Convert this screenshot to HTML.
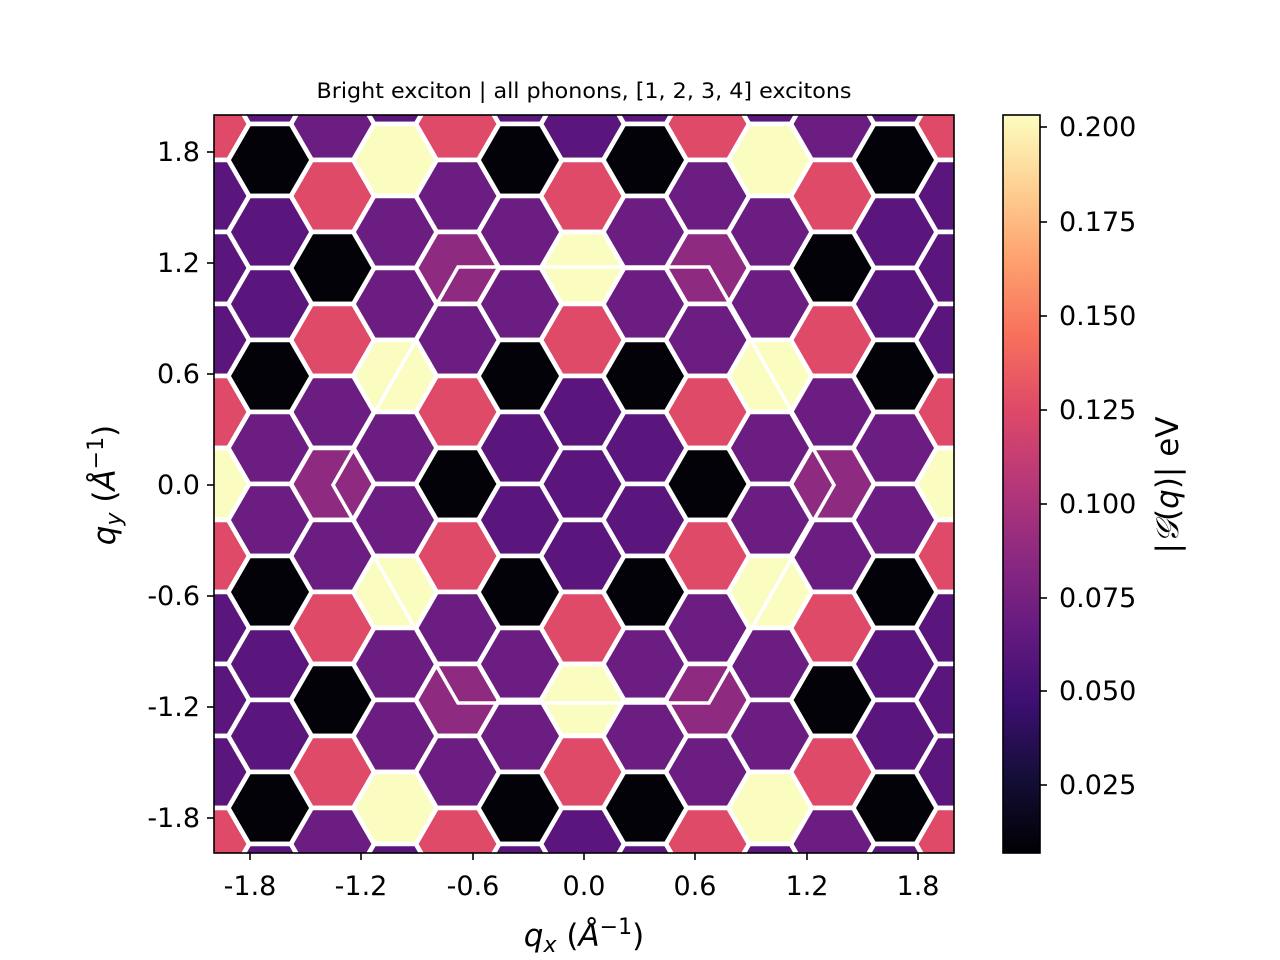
<!DOCTYPE html>
<html><head><meta charset="utf-8"><style>
html,body{margin:0;padding:0;background:#fff;}
svg{display:block;font-family:"DejaVu Sans","Liberation Sans",sans-serif;}
</style></head><body>
<svg width="1280" height="960" viewBox="0 0 1280 960" xmlns="http://www.w3.org/2000/svg">
<defs>
<polygon id="h" points="41.67,0 20.83,36.08 -20.83,36.08 -41.67,0 -20.83,-36.08 20.83,-36.08" stroke="#fff" stroke-width="4.6" stroke-linejoin="miter"/>
<clipPath id="c"><rect x="214" y="115" width="740" height="738"/></clipPath>
<linearGradient id="mg" x1="0" y1="1" x2="0" y2="0">
<stop offset="0" stop-color="#000004"/><stop offset="0.1" stop-color="#140e36"/><stop offset="0.2" stop-color="#3b0f70"/><stop offset="0.3" stop-color="#641a80"/><stop offset="0.4" stop-color="#8c2981"/><stop offset="0.5" stop-color="#b73779"/><stop offset="0.6" stop-color="#de4968"/><stop offset="0.7" stop-color="#f7705c"/><stop offset="0.8" stop-color="#fe9f6d"/><stop offset="0.9" stop-color="#fecf92"/><stop offset="1" stop-color="#fcfdbf"/>
</linearGradient>
</defs>
<rect x="214" y="115" width="740" height="738" fill="#fff"/>
<g clip-path="url(#c)">
<use href="#h" x="207.5" y="124" fill="#df4a68"/><use href="#h" x="207.5" y="196" fill="#5b167e"/><use href="#h" x="207.5" y="268" fill="#5b167e"/><use href="#h" x="207.5" y="340" fill="#5b167e"/><use href="#h" x="207.5" y="412" fill="#df4a68"/><use href="#h" x="207.5" y="484" fill="#fbfcc0"/><use href="#h" x="207.5" y="556" fill="#df4a68"/><use href="#h" x="207.5" y="628" fill="#5b167e"/><use href="#h" x="207.5" y="700" fill="#5b167e"/><use href="#h" x="207.5" y="772" fill="#5b167e"/><use href="#h" x="207.5" y="844" fill="#df4a68"/>
<use href="#h" x="957.5" y="124" fill="#df4a68"/><use href="#h" x="957.5" y="196" fill="#5b167e"/><use href="#h" x="957.5" y="268" fill="#5b167e"/><use href="#h" x="957.5" y="340" fill="#5b167e"/><use href="#h" x="957.5" y="412" fill="#df4a68"/><use href="#h" x="957.5" y="484" fill="#fbfcc0"/><use href="#h" x="957.5" y="556" fill="#df4a68"/><use href="#h" x="957.5" y="628" fill="#5b167e"/><use href="#h" x="957.5" y="700" fill="#5b167e"/><use href="#h" x="957.5" y="772" fill="#5b167e"/><use href="#h" x="957.5" y="844" fill="#df4a68"/>
<use href="#h" x="332.5" y="124" fill="#6b1d81"/><use href="#h" x="332.5" y="196" fill="#df4a68"/><use href="#h" x="332.5" y="268" fill="#030208"/><use href="#h" x="332.5" y="340" fill="#df4a68"/><use href="#h" x="332.5" y="412" fill="#6b1d81"/><use href="#h" x="332.5" y="484" fill="#8e2b80"/><use href="#h" x="332.5" y="556" fill="#6b1d81"/><use href="#h" x="332.5" y="628" fill="#df4a68"/><use href="#h" x="332.5" y="700" fill="#030208"/><use href="#h" x="332.5" y="772" fill="#df4a68"/><use href="#h" x="332.5" y="844" fill="#6b1d81"/>
<use href="#h" x="832.5" y="124" fill="#6b1d81"/><use href="#h" x="832.5" y="196" fill="#df4a68"/><use href="#h" x="832.5" y="268" fill="#030208"/><use href="#h" x="832.5" y="340" fill="#df4a68"/><use href="#h" x="832.5" y="412" fill="#6b1d81"/><use href="#h" x="832.5" y="484" fill="#8e2b80"/><use href="#h" x="832.5" y="556" fill="#6b1d81"/><use href="#h" x="832.5" y="628" fill="#df4a68"/><use href="#h" x="832.5" y="700" fill="#030208"/><use href="#h" x="832.5" y="772" fill="#df4a68"/><use href="#h" x="832.5" y="844" fill="#6b1d81"/>
<use href="#h" x="457.5" y="124" fill="#df4a68"/><use href="#h" x="457.5" y="196" fill="#6b1d81"/><use href="#h" x="457.5" y="268" fill="#8e2b80"/><use href="#h" x="457.5" y="340" fill="#6b1d81"/><use href="#h" x="457.5" y="412" fill="#df4a68"/><use href="#h" x="457.5" y="484" fill="#030208"/><use href="#h" x="457.5" y="556" fill="#df4a68"/><use href="#h" x="457.5" y="628" fill="#6b1d81"/><use href="#h" x="457.5" y="700" fill="#8e2b80"/><use href="#h" x="457.5" y="772" fill="#6b1d81"/><use href="#h" x="457.5" y="844" fill="#df4a68"/>
<use href="#h" x="707.5" y="124" fill="#df4a68"/><use href="#h" x="707.5" y="196" fill="#6b1d81"/><use href="#h" x="707.5" y="268" fill="#8e2b80"/><use href="#h" x="707.5" y="340" fill="#6b1d81"/><use href="#h" x="707.5" y="412" fill="#df4a68"/><use href="#h" x="707.5" y="484" fill="#030208"/><use href="#h" x="707.5" y="556" fill="#df4a68"/><use href="#h" x="707.5" y="628" fill="#6b1d81"/><use href="#h" x="707.5" y="700" fill="#8e2b80"/><use href="#h" x="707.5" y="772" fill="#6b1d81"/><use href="#h" x="707.5" y="844" fill="#df4a68"/>
<use href="#h" x="582.5" y="124" fill="#5b167e"/><use href="#h" x="582.5" y="196" fill="#df4a68"/><use href="#h" x="582.5" y="268" fill="#fbfcc0"/><use href="#h" x="582.5" y="340" fill="#df4a68"/><use href="#h" x="582.5" y="412" fill="#5b167e"/><use href="#h" x="582.5" y="484" fill="#5b167e"/><use href="#h" x="582.5" y="556" fill="#5b167e"/><use href="#h" x="582.5" y="628" fill="#df4a68"/><use href="#h" x="582.5" y="700" fill="#fbfcc0"/><use href="#h" x="582.5" y="772" fill="#df4a68"/><use href="#h" x="582.5" y="844" fill="#5b167e"/>
<use href="#h" x="270" y="88" fill="#5b167e"/><use href="#h" x="270" y="160" fill="#030208"/><use href="#h" x="270" y="232" fill="#5b167e"/><use href="#h" x="270" y="304" fill="#5b167e"/><use href="#h" x="270" y="376" fill="#030208"/><use href="#h" x="270" y="448" fill="#6b1d81"/><use href="#h" x="270" y="520" fill="#6b1d81"/><use href="#h" x="270" y="592" fill="#030208"/><use href="#h" x="270" y="664" fill="#5b167e"/><use href="#h" x="270" y="736" fill="#5b167e"/><use href="#h" x="270" y="808" fill="#030208"/><use href="#h" x="270" y="880" fill="#5b167e"/>
<use href="#h" x="895" y="88" fill="#5b167e"/><use href="#h" x="895" y="160" fill="#030208"/><use href="#h" x="895" y="232" fill="#5b167e"/><use href="#h" x="895" y="304" fill="#5b167e"/><use href="#h" x="895" y="376" fill="#030208"/><use href="#h" x="895" y="448" fill="#6b1d81"/><use href="#h" x="895" y="520" fill="#6b1d81"/><use href="#h" x="895" y="592" fill="#030208"/><use href="#h" x="895" y="664" fill="#5b167e"/><use href="#h" x="895" y="736" fill="#5b167e"/><use href="#h" x="895" y="808" fill="#030208"/><use href="#h" x="895" y="880" fill="#5b167e"/>
<use href="#h" x="395" y="88" fill="#5b167e"/><use href="#h" x="395" y="160" fill="#fbfcc0"/><use href="#h" x="395" y="232" fill="#6b1d81"/><use href="#h" x="395" y="304" fill="#6b1d81"/><use href="#h" x="395" y="376" fill="#fbfcc0"/><use href="#h" x="395" y="448" fill="#6b1d81"/><use href="#h" x="395" y="520" fill="#6b1d81"/><use href="#h" x="395" y="592" fill="#fbfcc0"/><use href="#h" x="395" y="664" fill="#6b1d81"/><use href="#h" x="395" y="736" fill="#6b1d81"/><use href="#h" x="395" y="808" fill="#fbfcc0"/><use href="#h" x="395" y="880" fill="#5b167e"/>
<use href="#h" x="770" y="88" fill="#5b167e"/><use href="#h" x="770" y="160" fill="#fbfcc0"/><use href="#h" x="770" y="232" fill="#6b1d81"/><use href="#h" x="770" y="304" fill="#6b1d81"/><use href="#h" x="770" y="376" fill="#fbfcc0"/><use href="#h" x="770" y="448" fill="#6b1d81"/><use href="#h" x="770" y="520" fill="#6b1d81"/><use href="#h" x="770" y="592" fill="#fbfcc0"/><use href="#h" x="770" y="664" fill="#6b1d81"/><use href="#h" x="770" y="736" fill="#6b1d81"/><use href="#h" x="770" y="808" fill="#fbfcc0"/><use href="#h" x="770" y="880" fill="#5b167e"/>
<use href="#h" x="520" y="88" fill="#5b167e"/><use href="#h" x="520" y="160" fill="#030208"/><use href="#h" x="520" y="232" fill="#6b1d81"/><use href="#h" x="520" y="304" fill="#6b1d81"/><use href="#h" x="520" y="376" fill="#030208"/><use href="#h" x="520" y="448" fill="#5b167e"/><use href="#h" x="520" y="520" fill="#5b167e"/><use href="#h" x="520" y="592" fill="#030208"/><use href="#h" x="520" y="664" fill="#6b1d81"/><use href="#h" x="520" y="736" fill="#6b1d81"/><use href="#h" x="520" y="808" fill="#030208"/><use href="#h" x="520" y="880" fill="#5b167e"/>
<use href="#h" x="645" y="88" fill="#5b167e"/><use href="#h" x="645" y="160" fill="#030208"/><use href="#h" x="645" y="232" fill="#6b1d81"/><use href="#h" x="645" y="304" fill="#6b1d81"/><use href="#h" x="645" y="376" fill="#030208"/><use href="#h" x="645" y="448" fill="#5b167e"/><use href="#h" x="645" y="520" fill="#5b167e"/><use href="#h" x="645" y="592" fill="#030208"/><use href="#h" x="645" y="664" fill="#6b1d81"/><use href="#h" x="645" y="736" fill="#6b1d81"/><use href="#h" x="645" y="808" fill="#030208"/><use href="#h" x="645" y="880" fill="#5b167e"/>
<polygon points="458,267 709,267 834,485 709,703 458,703 333,485" fill="none" stroke="#fff" stroke-width="3.6"/>
</g>
<rect x="214" y="115" width="740" height="738" fill="none" stroke="#000" stroke-width="1.6"/>
<g stroke="#000" stroke-width="1.6">
<line x1="250" y1="853" x2="250" y2="860"/><line x1="361" y1="853" x2="361" y2="860"/><line x1="473" y1="853" x2="473" y2="860"/><line x1="584" y1="853" x2="584" y2="860"/><line x1="695" y1="853" x2="695" y2="860"/><line x1="807" y1="853" x2="807" y2="860"/><line x1="918" y1="853" x2="918" y2="860"/>
<line x1="207" y1="152" x2="214" y2="152"/><line x1="207" y1="263" x2="214" y2="263"/><line x1="207" y1="374" x2="214" y2="374"/><line x1="207" y1="485" x2="214" y2="485"/><line x1="207" y1="596" x2="214" y2="596"/><line x1="207" y1="707" x2="214" y2="707"/><line x1="207" y1="818" x2="214" y2="818"/>
<line x1="1040" y1="127" x2="1047" y2="127"/><line x1="1040" y1="222" x2="1047" y2="222"/><line x1="1040" y1="316" x2="1047" y2="316"/><line x1="1040" y1="410" x2="1047" y2="410"/><line x1="1040" y1="504" x2="1047" y2="504"/><line x1="1040" y1="598" x2="1047" y2="598"/><line x1="1040" y1="691" x2="1047" y2="691"/><line x1="1040" y1="785" x2="1047" y2="785"/>
</g>
<g font-size="27" fill="#000" text-anchor="middle">
<text x="250" y="895">-1.8</text><text x="361" y="895">-1.2</text><text x="473" y="895">-0.6</text><text x="584" y="895">0.0</text><text x="695" y="895">0.6</text><text x="807" y="895">1.2</text><text x="918" y="895">1.8</text>
</g>
<g font-size="27" fill="#000" text-anchor="end">
<text x="200" y="161">1.8</text><text x="200" y="272">1.2</text><text x="200" y="383">0.6</text><text x="200" y="494">0.0</text><text x="200" y="605">-0.6</text><text x="200" y="716">-1.2</text><text x="200" y="827">-1.8</text>
</g>
<g font-size="27" fill="#000">
<text x="1059" y="136">0.200</text><text x="1059" y="231">0.175</text><text x="1059" y="325">0.150</text><text x="1059" y="419">0.125</text><text x="1059" y="513">0.100</text><text x="1059" y="607">0.075</text><text x="1059" y="700">0.050</text><text x="1059" y="794">0.025</text>
</g>
<rect x="1003" y="115" width="37" height="738" fill="url(#mg)" stroke="#000" stroke-width="1.6"/>
<text x="584" y="98" font-size="21" text-anchor="middle" textLength="535" lengthAdjust="spacingAndGlyphs">Bright exciton | all phonons, [1, 2, 3, 4] excitons</text>
<text x="584" y="946" font-size="31" text-anchor="middle"><tspan font-style="italic">q</tspan><tspan font-style="italic" font-size="22" dy="6">x</tspan><tspan dy="-6"> (</tspan><tspan font-style="italic">Å</tspan><tspan font-size="22" dy="-12">−1</tspan><tspan dy="12">)</tspan></text>
<text transform="translate(115,485) rotate(-90)" font-size="31" text-anchor="middle"><tspan font-style="italic">q</tspan><tspan font-style="italic" font-size="22" dy="6">y</tspan><tspan dy="-6"> (</tspan><tspan font-style="italic">Å</tspan><tspan font-size="22" dy="-12">−1</tspan><tspan dy="12">)</tspan></text>
<text transform="translate(1178,485) rotate(-90)" font-size="31" text-anchor="middle">|<tspan font-style="italic">𝒢</tspan>(<tspan font-style="italic">q</tspan>)| eV</text>
</svg>
</body></html>
